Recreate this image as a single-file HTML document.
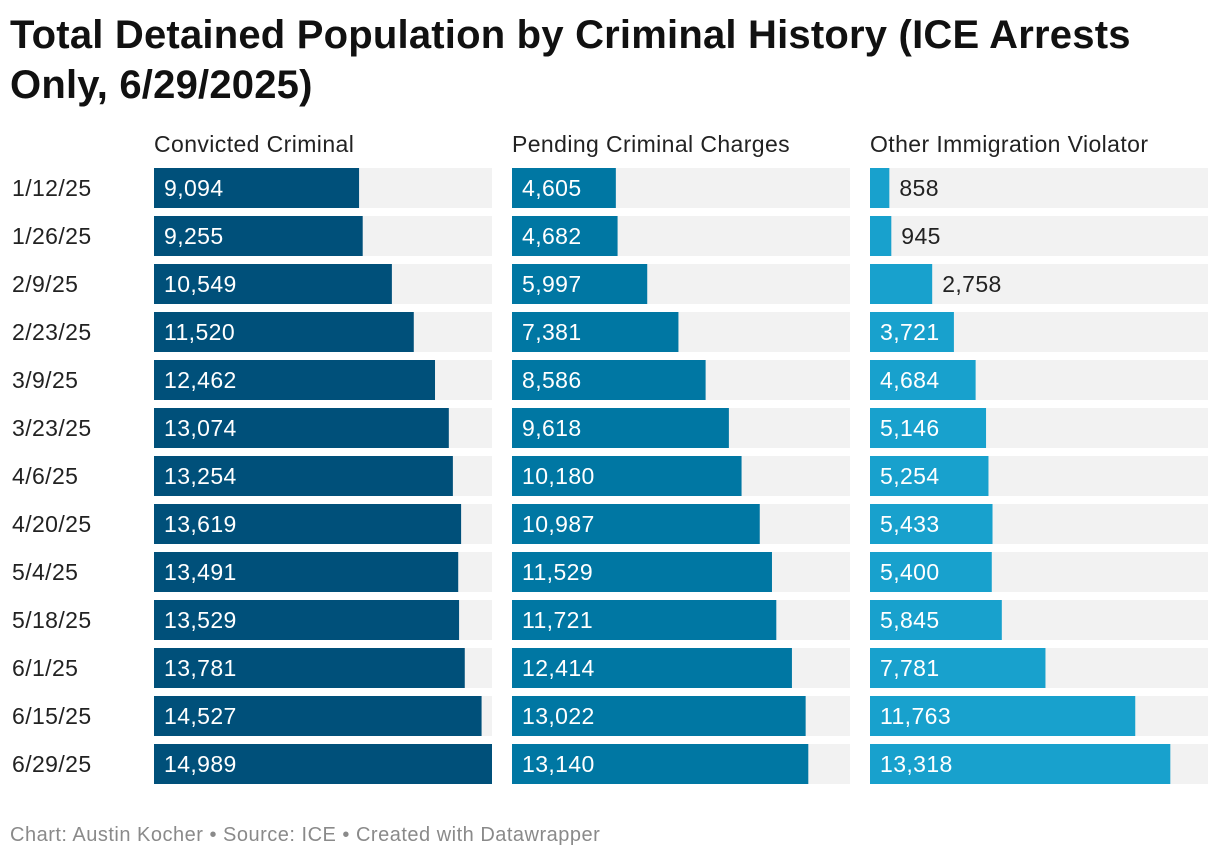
<!DOCTYPE html>
<html><head><meta charset="utf-8">
<style>
body{margin:0;width:1220px;height:860px;background:#fff;font-family:"Liberation Sans",Arial,sans-serif;overflow:hidden;position:relative}
#title{position:absolute;left:10px;top:10px;width:1210px;font-size:40px;font-weight:bold;line-height:50px;color:#111;letter-spacing:0.2px;white-space:nowrap}
#foot{position:absolute;left:10px;top:824px;font-size:20px;color:#8a8a8a;letter-spacing:0.5px}
svg{position:absolute;left:0;top:0}
svg text{letter-spacing:0.4px}
</style></head><body>
<div id="title">Total Detained Population by Criminal History (ICE Arrests<br>Only, 6/29/2025)</div>
<svg id="chart" width="1220" height="860"></svg>
<div id="foot">Chart: Austin Kocher • Source: ICE • Created with Datawrapper</div>
<script>
const dates=["1/12/25","1/26/25","2/9/25","2/23/25","3/9/25","3/23/25","4/6/25","4/20/25","5/4/25","5/18/25","6/1/25","6/15/25","6/29/25"];
const seriesNames=["Convicted Criminal","Pending Criminal Charges","Other Immigration Violator"];
const convicted=[9094,9255,10549,11520,12462,13074,13254,13619,13491,13529,13781,14527,14989];
const pending=[4605,4682,5997,7381,8586,9618,10180,10987,11529,11721,12414,13022,13140];
const other=[858,945,2758,3721,4684,5146,5254,5433,5400,5845,7781,11763,13318];
const series=[convicted,pending,other];
const colors=["#00507a","#0077a3","#18a1cd"];
const svg=document.getElementById('chart');const NS="http://www.w3.org/2000/svg";
const panelX=[154,512,870],panelW=338,top0=168,pitch=48,barH=40;
const maxV=Math.max(...convicted,...pending,...other);
const x=v=>v/maxV*panelW;
const y=i=>top0+i*pitch;
function mk(t,a){const e=document.createElementNS(NS,t);for(const k in a)e.setAttribute(k,a[k]);svg.appendChild(e);return e;}
const fmt=v=>v.toLocaleString('en-US');
dates.forEach((d,i)=>{const t=mk('text',{x:12,y:y(i)+28,'font-size':23,fill:'#222'});t.textContent=d;

});
series.forEach((s,j)=>{
 const h=mk('text',{x:panelX[j],y:152,'font-size':23,fill:'#222'});h.textContent=seriesNames[j];
 
 
 s.forEach((v,i)=>{
  const bg=mk('rect',{x:panelX[j],y:y(i),width:panelW,height:barH,fill:'#f2f2f2'});
  
  
  const w=x(v);
  const r=mk('rect',{x:panelX[j],y:y(i),width:w,height:barH,fill:colors[j]});
  
  
  const inside=w>70;
  const t=mk('text',{x:inside?panelX[j]+10:panelX[j]+w+10,y:y(i)+28,'font-size':23,fill:inside?'#fff':'#222'});
  t.textContent=fmt(v);
  
  
 });
});
</script>
</body></html>
